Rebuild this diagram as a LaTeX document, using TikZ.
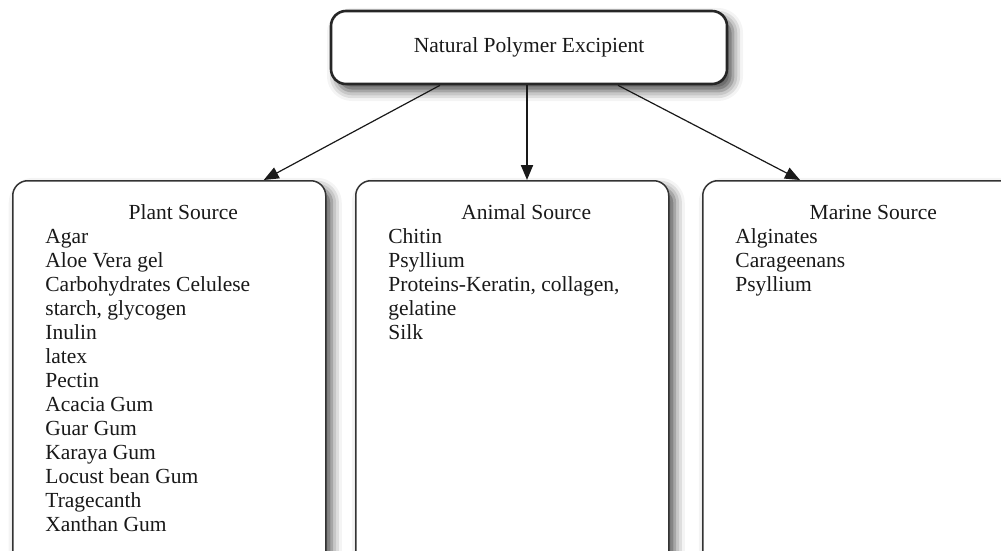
\documentclass[tikz,border=0pt]{standalone}
\usepackage{fontspec}
\setmainfont{Liberation Serif}
\usetikzlibrary{positioning,arrows.meta,shadows.blur}

\begin{document}
\begin{tikzpicture}[x=0.5pt, y=-0.5pt,
    mainbox/.style={rectangle, rounded corners=7.5pt, draw=black!85, line width=1.3pt, fill=white,
        minimum width=198pt, minimum height=36.5pt, font=\fontsize{10.75}{12}\selectfont, text=black!90,
        blur shadow={shadow xshift=3pt, shadow yshift=-3.5pt, shadow blur radius=5pt, shadow opacity=70}},
    srcbox/.style={rectangle, rounded corners=7.5pt, draw=black!80, line width=0.75pt, fill=white,
        minimum width=156.5pt, minimum height=215pt,
        blur shadow={shadow xshift=3pt, shadow yshift=-3.5pt, shadow blur radius=5pt, shadow opacity=70}},
    srctitle/.style={font=\fontsize{10.75}{12}\selectfont, text=black!90, inner sep=0pt, anchor=base},
    srclist/.style={font=\fontsize{10.75}{12}\selectfont, text=black!90, align=left, inner sep=0pt,
        anchor=north west},
    arr/.style={-{Triangle[length=7.5pt, width=6pt]}, line width=0.6pt, black!90},
]
\useasboundingbox (0,0) rectangle (1001,551);
\clip (0,0) rectangle (1001,551);

\node[mainbox] (npe) at (529,47.5) {Natural Polymer Excipient};
\node[srcbox, anchor=north west] (plant) at (12,180) {};
\node[srcbox, right=14.25pt of plant] (animal) {};
\node[srcbox, right=16.25pt of animal] (marine) {};

\node[srctitle] (plantT) at ([xshift=7pt, yshift=-19.5pt]plant.north) {Plant Source};
\node[srctitle] (animalT) at ([xshift=7pt, yshift=-19.5pt]animal.north) {Animal Source};
\node[srctitle] (marineT) at ([xshift=7pt, yshift=-19.5pt]marine.north) {Marine Source};

\node[srclist] (plantL) at ([xshift=16.5pt, yshift=-24.25pt]plant.north west)
    {Agar\\Aloe Vera gel\\Carbohydrates Celulese\\starch, glycogen\\Inulin\\latex\\Pectin\\
     Acacia Gum\\Guar Gum\\Karaya Gum\\Locust bean Gum\\Tragecanth\\Xanthan Gum};
\node[srclist] (animalL) at ([xshift=16.5pt, yshift=-24.25pt]animal.north west)
    {Chitin\\Psyllium\\Proteins-Keratin, collagen,\\gelatine\\Silk};
\node[srclist] (marineL) at ([xshift=16.5pt, yshift=-24.25pt]marine.north west)
    {Alginates\\Carageenans\\Psyllium};

\draw[arr] ([xshift=-44.5pt]npe.south) -- ([xshift=47.25pt]plant.north);
\draw[arr, line width=1pt] ([xshift=-1pt]npe.south) -- ([xshift=-1pt]npe.south |- animal.north);
\draw[arr] ([xshift=44.5pt]npe.south) -- ([xshift=49pt]marine.north west);
\end{tikzpicture}
\end{document}
